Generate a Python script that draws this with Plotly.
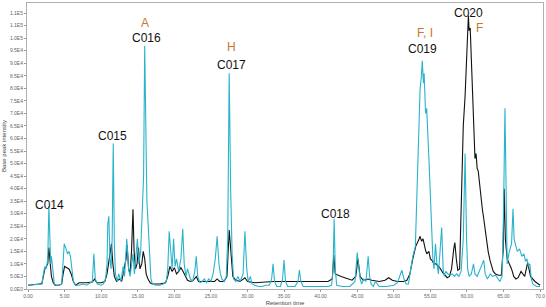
import plotly.graph_objects as go

# Retention time (min) and base peak intensity (thousands)
cyan_t = [0.0, 0.5, 1.0, 1.5, 1.9, 2.1, 2.3, 2.5, 2.7, 2.85, 2.95, 3.1, 3.2, 3.45, 3.6, 3.9, 4.3, 4.6, 4.8, 4.95,
          5.2, 5.4, 5.6, 5.8, 6.0, 6.2, 6.5, 7.0, 7.5, 8.0, 8.5, 8.8, 9.0, 9.2, 9.5, 10.0, 10.3, 10.6, 10.8, 10.9,
          11.05, 11.2, 11.35, 11.5, 11.65, 11.8, 11.95, 12.2, 12.4, 12.7, 13.0, 13.2, 13.5, 13.75, 13.95, 14.15, 14.35, 14.55, 14.75, 14.95,
          15.15, 15.4, 15.6, 15.8, 15.95, 16.1, 16.25, 16.4, 16.6, 16.8, 17.0, 17.5, 18.0, 18.5, 18.9, 19.1, 19.3, 19.5, 19.7, 19.9,
          20.1, 20.3, 20.6, 20.9, 21.15, 21.35, 21.6, 21.8, 22.0, 22.2, 22.5, 22.8, 23.0, 23.2, 23.5, 23.8, 24.1, 24.4, 24.7, 25.0,
          25.3, 25.6, 25.85, 26.1, 26.3, 26.5, 26.8, 27.1, 27.3, 27.5, 27.7, 27.9, 28.1, 28.4, 28.7, 29.0, 29.4, 29.65, 29.9, 30.1,
          30.4, 30.6, 31.0, 31.5, 32.0, 32.5, 33.0, 33.3, 33.5, 33.7, 34.0, 34.5, 34.8, 35.0, 35.2, 35.5, 36.0, 36.5, 36.9, 37.1,
          37.3, 37.6, 38.0, 39.0, 40.0, 41.0, 41.5, 41.7, 41.85, 42.0, 42.2, 43.0, 44.0, 44.7, 45.0, 45.2, 45.4, 45.6, 45.9, 46.2,
          46.5, 46.7, 46.9, 47.2, 47.5, 48.0, 49.0, 50.0, 50.5, 50.8, 51.1, 51.4, 51.7, 52.0, 52.3, 52.6, 52.95, 53.2, 53.4, 53.6,
          53.75, 53.9, 54.05, 54.15, 54.35, 54.5, 54.8, 55.0, 55.2, 55.35, 55.5, 55.7, 55.9, 56.1, 56.3, 56.55, 56.75, 56.9, 57.1, 57.4,
          57.7, 58.0, 58.3, 58.6, 58.9, 59.2, 59.5, 59.75, 59.95, 60.1, 60.3, 60.6, 60.9, 61.1, 61.4, 61.7, 62.0, 62.3, 62.5, 62.8,
          63.2, 63.5, 63.9, 64.2, 64.5, 64.8, 65.0, 65.2, 65.35, 65.5, 65.8, 66.1, 66.3, 66.45, 66.7, 66.9, 67.2, 67.5, 67.8, 68.0,
          68.2, 68.4, 68.6, 68.8, 69.0, 69.5, 70.0]
cyan_i = [1.5, 1.6, 1.8, 2.0, 2.0, 6.0, 9.0, 8.0, 12.0, 33.0, 20.0, 10.0, 13.0, 5.0, 2.0, 1.5, 1.5, 2.0, 10.0, 18.0,
          16.0, 14.0, 15.0, 13.0, 8.0, 3.0, 1.5, 1.5, 2.0, 1.5, 2.5, 3.0, 14.0, 4.0, 2.0, 1.5, 2.0, 4.0, 10.0, 26.0,
          29.0, 12.0, 8.0, 20.0, 58.0, 18.0, 6.0, 3.0, 6.0, 3.0, 9.0, 5.0, 20.0, 8.0, 5.0, 10.0, 14.0, 6.0, 12.0, 20.0,
          10.0, 15.0, 30.0, 45.0, 97.0, 50.0, 35.0, 27.0, 12.0, 4.0, 2.0, 1.5, 1.5, 2.0, 3.0, 8.0, 23.0, 14.0, 8.0, 20.0,
          9.0, 12.0, 7.0, 12.0, 24.0, 10.0, 5.0, 8.0, 6.0, 4.0, 3.0, 7.0, 13.0, 5.0, 2.5, 3.0, 4.0, 2.5, 4.0, 3.0,
          6.0, 12.0, 21.0, 10.0, 6.0, 4.0, 3.0, 5.0, 20.0, 86.0, 40.0, 14.0, 4.0, 3.0, 5.0, 3.0, 6.0, 23.0, 8.0, 3.0,
          5.0, 2.0, 1.5, 1.0, 1.0, 1.5, 1.5, 4.0, 10.0, 3.0, 1.0, 1.0, 4.0, 11.5, 3.0, 1.0, 1.0, 1.0, 3.0, 7.5,
          3.0, 1.0, 1.0, 1.0, 1.0, 1.0, 1.5, 8.0, 28.0, 8.0, 1.5, 1.0, 1.0, 3.0, 14.5, 10.0, 4.0, 2.0, 4.0, 3.0,
          13.0, 5.0, 2.0, 1.0, 3.0, 1.0, 1.0, 1.5, 2.5, 5.0, 7.5, 4.0, 2.0, 2.0, 8.0, 13.0, 17.0, 45.0, 65.0, 80.0,
          84.0, 91.0, 82.0, 86.0, 70.0, 72.0, 52.0, 35.0, 20.0, 12.0, 8.0, 18.0, 10.0, 6.0, 14.0, 24.5, 8.0, 5.0, 7.0, 6.0,
          5.5, 6.0, 5.0, 6.0, 5.0, 7.0, 20.0, 54.0, 20.0, 8.0, 5.0, 6.0, 10.0, 6.0, 5.0, 7.0, 9.0, 11.5, 6.0, 4.0,
          6.0, 5.0, 5.5, 4.0, 3.0, 5.0, 30.0, 72.0, 30.0, 10.0, 15.0, 18.0, 32.0, 20.0, 17.0, 15.0, 16.0, 13.0, 14.0, 11.0,
          12.0, 9.0, 10.0, 4.0, 2.0, 1.0, 1.0]

black_t = [0.0, 0.5, 1.0, 1.5, 1.9, 2.1, 2.3, 2.5, 2.7, 2.85, 3.0, 3.2, 3.45, 3.7, 4.2, 4.6, 4.8, 5.0, 5.3, 5.6,
           5.9, 6.2, 6.5, 7.0, 8.0, 8.8, 9.1, 9.4, 10.0, 10.5, 10.8, 11.1, 11.4, 11.6, 11.8, 12.1, 12.5, 12.8, 13.1, 13.4,
           13.55, 13.75, 13.95, 14.15, 14.35, 14.5, 14.7, 14.9, 15.1, 15.3, 15.55, 15.75, 15.95, 16.15, 16.4, 16.7, 17.0, 18.0, 18.8, 19.1,
           19.4, 19.7, 20.0, 20.3, 20.6, 20.9, 21.2, 21.5, 21.8, 22.2, 22.6, 23.0, 23.3, 23.7, 24.5, 25.0, 25.5, 25.85, 26.2, 26.8,
           27.2, 27.5, 27.75, 28.0, 28.4, 29.0, 29.65, 30.0, 31.0, 33.5, 35.0, 37.0, 39.0, 41.0, 41.6, 41.8, 42.0, 42.3, 42.8, 43.3,
           43.8, 44.3, 44.8, 45.1, 45.4, 45.8, 46.5, 47.0, 48.0, 48.8, 49.3, 49.8, 50.5, 51.3, 51.8, 52.2, 52.6, 53.0, 53.4, 53.6,
           53.8, 54.0, 54.3, 54.5, 54.8, 55.0, 55.2, 55.5, 55.8, 56.1, 56.4, 56.7, 57.0, 57.3, 57.6, 57.9, 58.2, 58.35, 58.55, 58.75,
           59.0, 59.15, 59.3, 59.5, 59.75, 59.9, 60.0, 60.1, 60.2, 60.3, 60.45, 60.6, 60.75, 60.9, 61.0, 61.1, 61.25, 61.4, 61.55, 61.7,
           61.9, 62.1, 62.3, 62.5, 62.7, 62.9, 63.15, 63.4, 63.6, 63.9, 64.3, 64.7, 64.95, 65.1, 65.25, 65.5, 65.8, 66.1, 66.4, 66.7,
           67.0, 67.4, 67.9, 68.3, 68.7, 69.3, 70.0]
black_i = [1.5, 1.6, 1.8, 2.0, 2.2, 5.0, 8.0, 9.0, 10.0, 16.5, 10.0, 5.0, 2.5, 1.5, 1.5, 2.0, 6.0, 9.0, 8.5, 8.0,
           6.0, 3.0, 1.5, 2.5, 2.5, 2.8, 4.0, 2.5, 2.5, 3.0, 6.0, 12.0, 18.0, 10.0, 5.0, 3.0, 4.0, 3.0, 8.0, 12.0,
           17.5, 8.0, 6.0, 15.0, 31.8, 15.0, 8.0, 10.0, 16.5, 8.0, 10.0, 15.0, 12.0, 6.0, 4.0, 2.5, 2.0, 2.0, 2.5, 5.0,
           9.0, 7.0, 8.5, 6.0, 7.0, 8.5, 7.0, 5.0, 3.5, 3.0, 3.5, 5.0, 3.0, 3.0, 3.0, 3.0, 3.0, 4.0, 3.0, 3.0,
           5.0, 23.5, 12.0, 5.0, 3.5, 3.0, 4.5, 3.0, 2.5, 3.0, 3.0, 3.0, 3.0, 3.0, 4.0, 13.5, 6.0, 5.5, 5.0, 4.5,
           4.0, 3.5, 5.0, 12.0, 5.0, 3.5, 4.0, 3.5, 3.0, 3.5, 4.5, 3.5, 3.0, 3.0, 3.5, 6.0, 12.0, 17.0, 19.5, 21.0,
           19.0, 20.0, 16.0, 14.0, 15.0, 12.0, 11.5, 10.0, 10.0, 9.0, 8.0, 6.5, 5.5, 4.5, 5.0, 8.0, 16.0, 18.5, 12.0, 7.5,
           8.0, 25.0, 50.0, 65.0, 77.0, 88.0, 95.0, 100.0, 109.0, 103.0, 104.0, 92.0, 82.0, 72.0, 60.0, 52.0, 54.0, 48.0, 47.0, 42.0,
           36.0, 32.0, 28.0, 23.0, 19.0, 15.0, 11.5, 8.5, 7.0, 6.0, 5.5, 5.5, 15.0, 40.0, 20.0, 12.0, 10.0, 8.0, 5.0, 4.0,
           4.5, 7.0, 5.0, 10.5, 5.0, 3.0, 1.5]

x_tickvals = [0, 5, 10, 15, 20, 25, 30, 35, 40, 45, 50, 55, 60, 65, 70]
x_ticktext = ["0.00", "5.00", "10.00", "15.00", "20.00", "25.00", "30.00", "35.00", "40.00",
              "45.00", "50.00", "55.00", "60.00", "65.00", "70.0"]
y_tickvals = [0, 5, 10, 15, 20, 25, 30, 35, 40, 45, 50, 55, 60, 65, 70, 75, 80, 85, 90, 95, 100, 105, 110]
y_ticktext = ["0.0E0", "5.0E3", "1.0E4", "1.5E4", "2.0E4", "2.5E4", "3.0E4", "3.5E4", "4.0E4", "4.5E4",
              "5.0E4", "5.5E4", "6.0E4", "6.5E4", "7.0E4", "7.5E4", "8.0E4", "8.5E4", "9.0E4", "9.5E4",
              "1.0E5", "1.1E5", "1.1E5"]

compound_labels = ["C014", "C015", "C016", "C017", "C018", "C019", "C020"]
compound_x = [3.0, 11.55, 16.2, 27.85, 42.0, 53.9, 60.2]
compound_y = [33.6, 60.8, 100.0, 89.2, 30.0, 95.5, 110.0]
class_labels = ["A", "H", "F, I", "F"]
class_x = [16.05, 27.85, 54.3, 61.7]
class_y = [106.0, 96.3, 102.0, 104.0]

fig = go.Figure()
fig.add_trace(go.Scatter(x=black_t, y=black_i, mode="lines",
                         line=dict(color="#111111", width=1.1), showlegend=False))
fig.add_trace(go.Scatter(x=cyan_t, y=cyan_i, mode="lines",
                         line=dict(color="#2ab3cc", width=1.1), showlegend=False))

for lab, xx, yy in zip(compound_labels, compound_x, compound_y):
    fig.add_annotation(x=xx, y=yy, text=lab, showarrow=False, xref="x", yref="y",
                       font=dict(family="Liberation Sans", size=12, color="#111111"))
for lab, xx, yy in zip(class_labels, class_x, class_y):
    fig.add_annotation(x=xx, y=yy, text=lab, showarrow=False, xref="x", yref="y",
                       font=dict(family="Liberation Sans", size=12, color="#c8782f"))

fig.update_layout(
    width=546, height=307,
    margin=dict(l=27, r=2, t=3, b=15),
    paper_bgcolor="white", plot_bgcolor="white",
    font=dict(family="Liberation Sans", size=5, color="#555555"),
    xaxis=dict(range=[-0.14, 70.4], tickvals=x_tickvals, ticktext=x_ticktext,
               showgrid=False, zeroline=False, showline=True, linecolor="#b0b0b0", linewidth=1,
               mirror=True, ticks="outside", ticklen=2, tickcolor="#999999",
               tickfont=dict(size=5, color="#666666"),
               title=dict(text="Retention time", font=dict(size=6, color="#444444"), standoff=2)),
    yaxis=dict(range=[0, 114], tickvals=y_tickvals, ticktext=y_ticktext,
               showgrid=False, zeroline=False, showline=True, linecolor="#b0b0b0", linewidth=1,
               mirror=True, ticks="outside", ticklen=2, tickcolor="#999999",
               tickfont=dict(size=5, color="#666666"),
               title=dict(text="Base peak intensity", font=dict(size=6, color="#444444"), standoff=2)),
)

fig.write_html("out.html")
